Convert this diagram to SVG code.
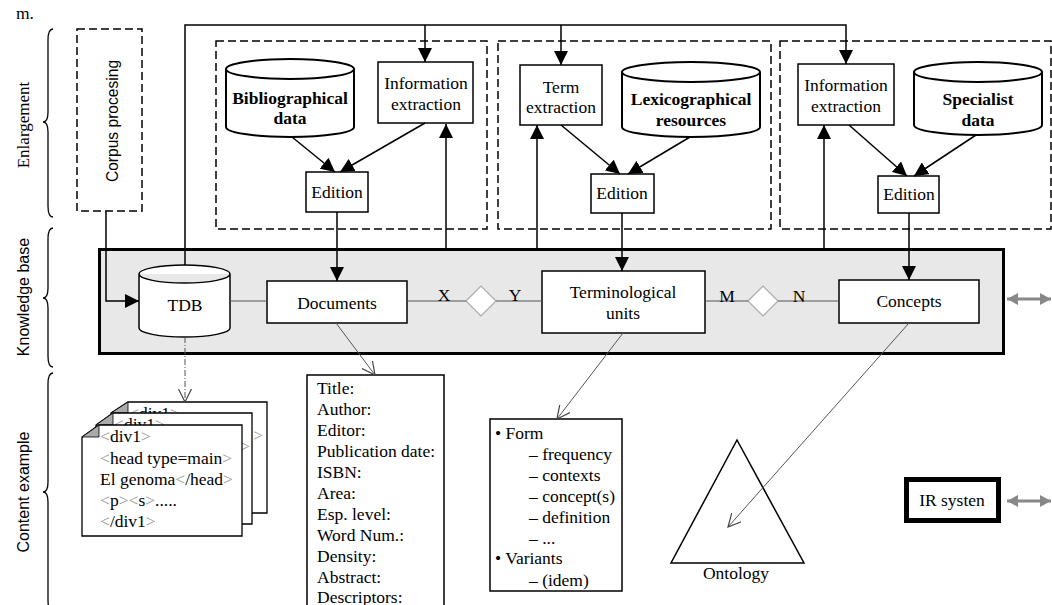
<svg xmlns="http://www.w3.org/2000/svg" width="1052" height="605" viewBox="0 0 1052 605">
<style>
.box{fill:#fff;stroke:#000;stroke-width:1.5}
.dash{fill:none;stroke:#000;stroke-width:1.5;stroke-dasharray:8 4}
.cyl{fill:#fff;stroke:#000;stroke-width:2}
.t{font-family:"Liberation Serif","Times New Roman",serif;font-size:17.5px;fill:#000}
.s{font-family:"Liberation Sans",Arial,sans-serif;font-size:16px;fill:#000}
.c{text-anchor:middle}
.b{font-weight:bold}
.ln{stroke:#000;stroke-width:1.5;fill:none}
.gl{stroke:#555;stroke-width:1;fill:none}
.br{fill:#999}
.brace{fill:none;stroke:#000;stroke-width:1.3}
.dbl{stroke:#888;stroke-width:3;fill:none}
.page{fill:#fff;stroke:#000;stroke-width:1.3}
.fold{fill:#aaa;stroke:#000;stroke-width:0.8}
</style>
<defs>
<marker id="ah" markerUnits="userSpaceOnUse" markerWidth="14" markerHeight="14" refX="14" refY="7" orient="auto"><path d="M0,0 L14,7 L0,14 z" fill="#000"/></marker>
<marker id="oa" markerUnits="userSpaceOnUse" markerWidth="14" markerHeight="14" refX="13" refY="7" orient="auto"><path d="M0,0.5 L13,7 L0,13.5" fill="none" stroke="#444" stroke-width="1.2"/></marker>
<marker id="ga" markerUnits="userSpaceOnUse" markerWidth="12" markerHeight="12" refX="11" refY="6" orient="auto-start-reverse"><path d="M0,0 L11,6 L0,12 z" fill="#888"/></marker>
<clipPath id="clip3"><rect x="111" y="402" width="160" height="11"/></clipPath>
<clipPath id="clip2"><rect x="96" y="413" width="160" height="12"/></clipPath>
</defs>
<rect width="1052" height="605" fill="#fff"/>

<text class="t" x="16" y="19">m.</text>

<g id="labels">
<path class="brace" d="M53,29 Q48,29 48,40 L48,112 Q48,122 43,122 Q48,122 48,132 L48,206 Q48,217 53,217"/>
<text class="t c" style="font-size:17px" transform="translate(29,125) rotate(-90)">Enlargement</text>
<path class="brace" d="M53,228 Q48,228 48,239 L48,288 Q48,298 43,298 Q48,298 48,308 L48,356 Q48,367 53,367"/>
<text class="s c" transform="translate(29,297) rotate(-90)">Knowledge base</text>
<path class="brace" d="M53,373 Q48,373 48,384 L48,482 Q48,492 43,492 Q48,492 48,502 L48,600 Q48,611 53,611"/>
<text class="s c" transform="translate(29,492) rotate(-90)">Content example</text>
</g>

<g id="corpus-processing">
<rect class="dash" x="77" y="29" width="65" height="182"/>
<text class="s c" style="font-size:15.6px" transform="translate(117.5,121) rotate(-90)">Corpus procesing</text>
</g>

<g id="group-documents">
<rect class="dash" x="216" y="41" width="271" height="188"/>
</g>
<g id="group-terms">
<rect class="dash" x="498" y="41" width="273" height="188"/>
</g>
<g id="group-concepts">
<rect class="dash" x="780" y="41" width="271" height="188"/>
</g>

<g id="knowledge-base">
<rect x="99.5" y="249.5" width="904" height="104" fill="#e8e8e8" stroke="#000" stroke-width="3"/>
</g>

<g id="bibliographical-data">
<path class="cyl" d="M226,69 A64,10 0 0 1 354,69 V127 A64,10 0 0 1 226,127 Z M226,69 A64,10 0 0 0 354,69"/>
<text class="t c b" x="290" y="104">Bibliographical</text>
<text class="t c b" x="290" y="124">data</text>
</g>
<g id="information-extraction-1">
<rect class="box" x="378" y="62" width="95" height="61"/>
<text class="t c" x="426" y="89">Information</text>
<text class="t c" x="426" y="110">extraction</text>
</g>
<g id="edition-1">
<rect class="box" x="306" y="172" width="62" height="40"/>
<text class="t c" x="337" y="198">Edition</text>
</g>

<g id="term-extraction">
<rect class="box" x="520" y="65" width="82" height="60"/>
<text class="t c" x="561" y="93">Term</text>
<text class="t c" x="561" y="113">extraction</text>
</g>
<g id="lexicographical-resources">
<path class="cyl" d="M622,72 A69,10 0 0 1 760,72 V127 A69,10 0 0 1 622,127 Z M622,72 A69,10 0 0 0 760,72"/>
<text class="t c b" x="691" y="105">Lexicographical</text>
<text class="t c b" x="691" y="126">resources</text>
</g>
<g id="edition-2">
<rect class="box" x="591" y="174" width="63" height="39"/>
<text class="t c" x="622" y="199">Edition</text>
</g>

<g id="information-extraction-2">
<rect class="box" x="798" y="64" width="96" height="61"/>
<text class="t c" x="846" y="91">Information</text>
<text class="t c" x="846" y="112">extraction</text>
</g>
<g id="specialist-data">
<path class="cyl" d="M914,72 A64,10 0 0 1 1042,72 V125 A64,10 0 0 1 914,125 Z M914,72 A64,10 0 0 0 1042,72"/>
<text class="t c b" x="978" y="105">Specialist</text>
<text class="t c b" x="978" y="126">data</text>
</g>
<g id="edition-3">
<rect class="box" x="878" y="176" width="61" height="37"/>
<text class="t c" x="909" y="200">Edition</text>
</g>

<g id="tdb">
<path class="box" d="M139,274 A45.5,9 0 0 1 230,274 V328 A45.5,9 0 0 1 139,328 Z M139,274 A45.5,9 0 0 0 230,274"/>
<text class="t c" x="185" y="311">TDB</text>
</g>
<g id="documents">
<rect class="box" x="267" y="281" width="140" height="42"/>
<text class="t c" x="337" y="309">Documents</text>
</g>
<g id="relation-xy">
<path d="M466,301 L481,286 L496,301 L481,316 Z" fill="#fff" stroke="#aaa" stroke-width="1.2"/>
</g>
<g id="terminological-units">
<rect class="box" x="542" y="271" width="163" height="62"/>
<text class="t c" x="623" y="298">Terminological</text>
<text class="t c" x="623" y="319">units</text>
</g>
<g id="relation-mn">
<path d="M748,301 L763,286 L778,301 L763,316 Z" fill="#fff" stroke="#aaa" stroke-width="1.2"/>
</g>
<g id="concepts">
<rect class="box" x="839" y="280" width="140" height="43"/>
<text class="t c" x="909" y="307">Concepts</text>
</g>

<g id="tei-documents">
<path class="page" d="M128,402 H267 V513 H111 V413 Z"/>
<path class="fold" d="M111,413 L128,402 L128,413 Z"/>
<g clip-path="url(#clip3)"><text class="t" x="129" y="419"><tspan class="br">&lt;</tspan>div1<tspan class="br">&gt;</tspan></text></g>
<text class="t br" x="263" y="441" text-anchor="end">&gt;</text>
<path class="page" d="M113,413 H252 V524 H96 V425 Z"/>
<path class="fold" d="M96,425 L113,413 L113,425 Z"/>
<g clip-path="url(#clip2)"><text class="t" x="114" y="430"><tspan class="br">&lt;</tspan>div1<tspan class="br">&gt;</tspan></text></g>
<text class="t br" x="250" y="452" text-anchor="end">&gt;</text>
<path class="page" d="M99,425 H242 V536 H82 V437 Z"/>
<path class="fold" d="M82,437 L99,425 L99,437 Z"/>
<text class="t" x="100" y="442"><tspan class="br">&lt;</tspan>div1<tspan class="br">&gt;</tspan></text>
<text class="t" x="100" y="464"><tspan class="br">&lt;</tspan>head type=main<tspan class="br">&gt;</tspan></text>
<text class="t" x="100" y="485">El genoma<tspan class="br">&lt;</tspan>/head<tspan class="br">&gt;</tspan></text>
<text class="t" x="100" y="506"><tspan class="br">&lt;</tspan>p<tspan class="br">&gt;&lt;</tspan>s<tspan class="br">&gt;</tspan>.....</text>
<text class="t" x="100" y="527"><tspan class="br">&lt;</tspan>/div1<tspan class="br">&gt;</tspan></text>
</g>

<g id="document-record">
<rect class="box" x="307" y="375" width="137" height="240"/>
<text class="t" x="317" y="394">Title:</text>
<text class="t" x="317" y="415">Author:</text>
<text class="t" x="317" y="436">Editor:</text>
<text class="t" x="317" y="457">Publication date:</text>
<text class="t" x="317" y="478">ISBN:</text>
<text class="t" x="317" y="499">Area:</text>
<text class="t" x="317" y="520">Esp. level:</text>
<text class="t" x="317" y="541">Word Num.:</text>
<text class="t" x="317" y="562">Density:</text>
<text class="t" x="317" y="583">Abstract:</text>
<text class="t" x="317" y="603">Descriptors:</text>
</g>

<g id="term-record">
<rect class="box" x="490" y="419" width="132" height="172"/>
<text class="t" x="495" y="439">• Form</text>
<text class="t" x="529" y="460">– frequency</text>
<text class="t" x="529" y="481">– contexts</text>
<text class="t" x="529" y="502">– concept(s)</text>
<text class="t" x="529" y="523">– definition</text>
<text class="t" x="529" y="544">– ...</text>
<text class="t" x="495" y="564">• Variants</text>
<text class="t" x="529" y="586">– (idem)</text>
</g>

<g id="ontology">
<path d="M737,440 L804,563 L671,563 Z" fill="none" stroke="#000" stroke-width="1.5"/>
<text class="t c" x="736" y="579">Ontology</text>
</g>

<g id="ir-system">
<rect x="906.5" y="479.5" width="92" height="41" fill="#fff" stroke="#000" stroke-width="5"/>
<text class="t c" x="952" y="506">IR systen</text>
</g>

<g id="connectors">
<path class="ln" d="M185,265 V25 H846 V64" marker-end="url(#ah)"/>
<path class="ln" d="M425,25 V62" marker-end="url(#ah)"/>
<path class="ln" d="M561,25 V65" marker-end="url(#ah)"/>
<path class="ln" d="M106,211 V301 H139" marker-end="url(#ah)"/>
<path class="ln" d="M292,137 L335,172" marker-end="url(#ah)"/>
<path class="ln" d="M425,123 L340,172" marker-end="url(#ah)"/>
<path class="ln" d="M561,125 L620,174" marker-end="url(#ah)"/>
<path class="ln" d="M690,137 L628,174" marker-end="url(#ah)"/>
<path class="ln" d="M849,125 L907,176" marker-end="url(#ah)"/>
<path class="ln" d="M976,135 L914,176" marker-end="url(#ah)"/>
<path class="ln" d="M337,212 V281" marker-end="url(#ah)"/>
<path class="ln" d="M622,213 V271" marker-end="url(#ah)"/>
<path class="ln" d="M909,213 V280" marker-end="url(#ah)"/>
<path class="ln" d="M446,248 V124" marker-end="url(#ah)"/>
<path class="ln" d="M537,248 V125" marker-end="url(#ah)"/>
<path class="ln" d="M824,248 V125" marker-end="url(#ah)"/>
<path class="gl" d="M230,301 H267 M407,301 H466 M496,301 H542 M705,301 H748 M778,301 H839"/>
<text class="t c" x="444" y="301">X</text>
<text class="t c" x="515" y="301">Y</text>
<text class="t c" x="727" y="302">M</text>
<text class="t c" x="799" y="302">N</text>
<path class="gl" d="M185,337 V402" stroke-dasharray="6 2 1 2" marker-end="url(#oa)"/>
<path class="gl" d="M336,323 L375,375" marker-end="url(#oa)"/>
<path class="gl" d="M623,333 L557,419" marker-end="url(#oa)"/>
<path class="gl" d="M909,323 L728,527" marker-end="url(#oa)"/>
<path class="dbl" d="M1007,299 H1051" marker-start="url(#ga)" marker-end="url(#ga)"/>
<path class="dbl" d="M1007,501 H1051" marker-start="url(#ga)" marker-end="url(#ga)"/>
</g>
</svg>
